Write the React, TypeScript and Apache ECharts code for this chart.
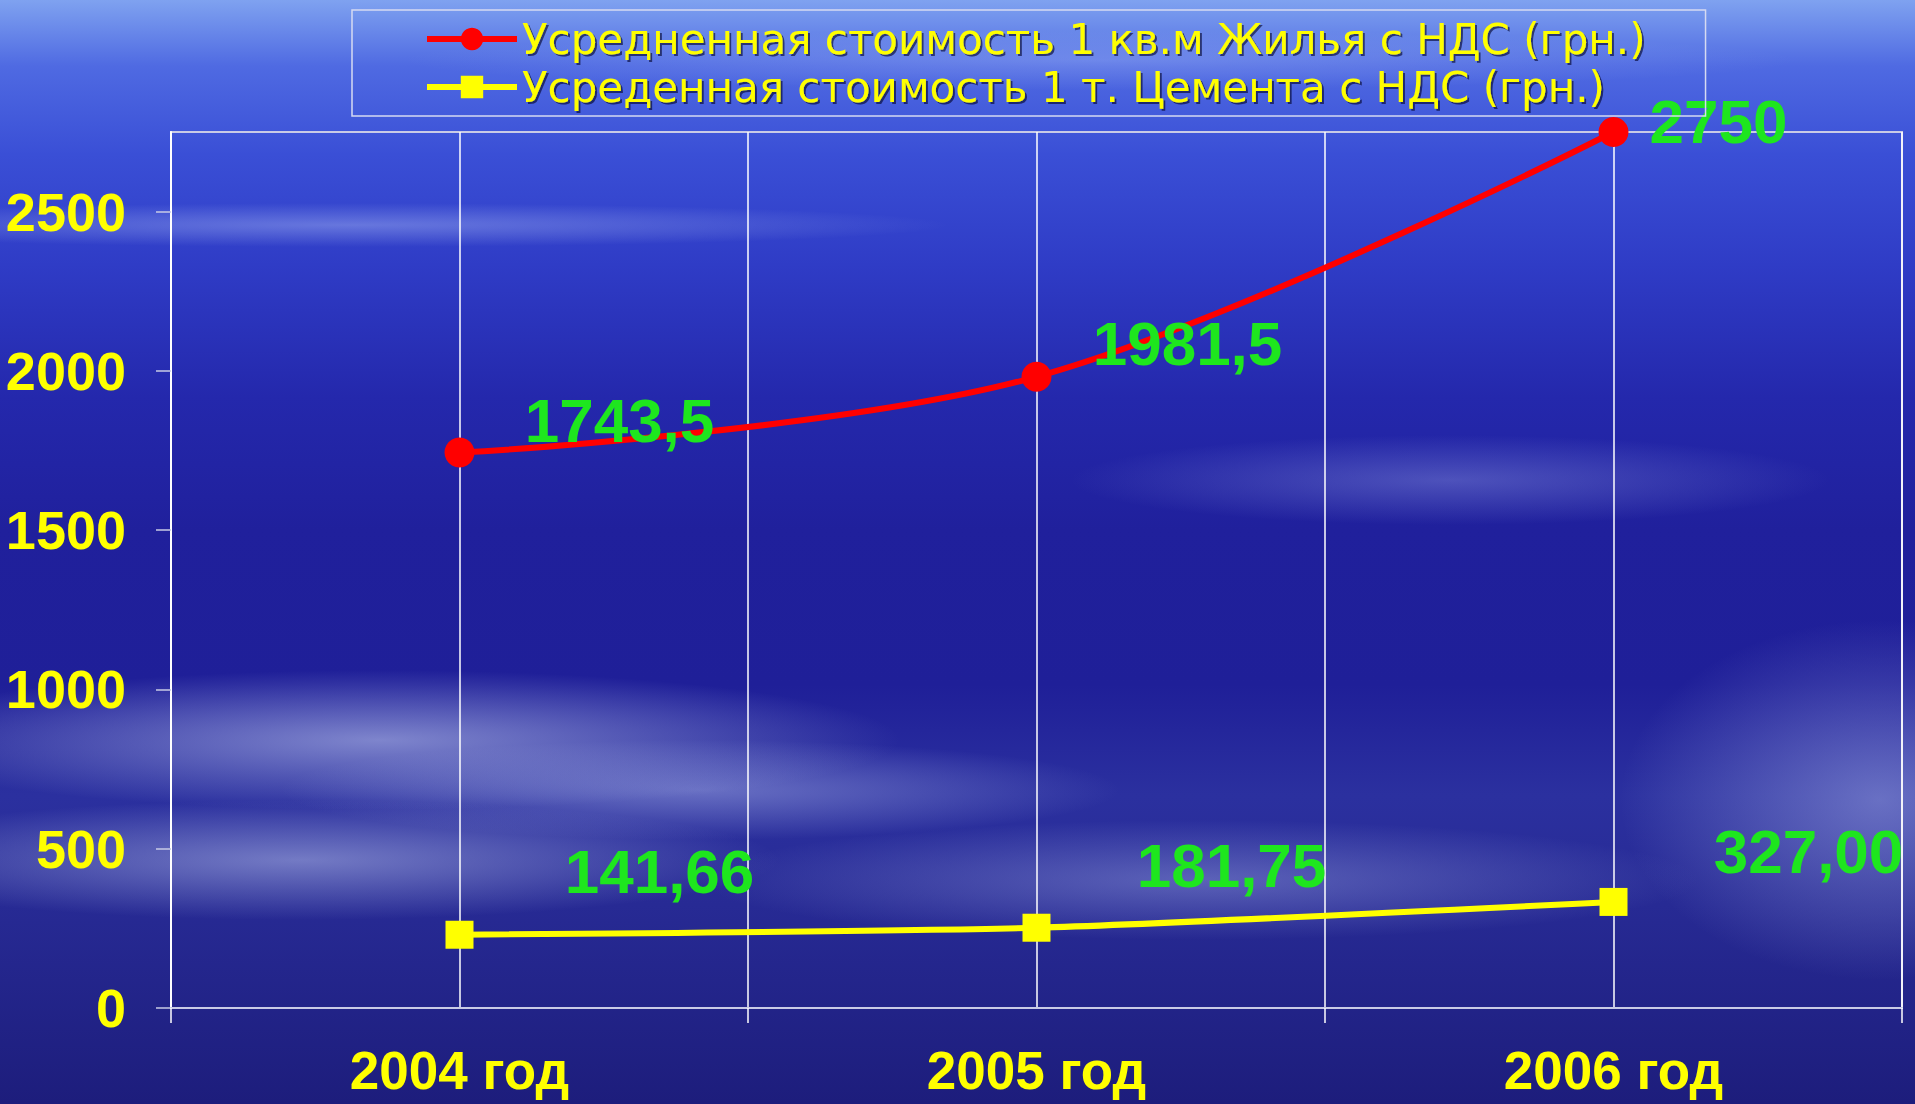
import React, { useEffect, useRef } from "react";
import * as echarts from "echarts";

const categories = ["2004 год", "2005 год", "2006 год"];
const housingName = "Усредненная стоимость 1 кв.м Жилья с НДС (грн.)";
const cementName = "Усреденная стоимость 1 т. Цемента с НДС (грн.)";
const housingValues = [1743.5, 1981.5, 2750];
const housingLabels = ["1743,5", "1981,5", "2750"];
const cementValues = [230, 252, 333];
const cementLabels = ["141,66", "181,75", "327,00"];
const yTicks = [0, 500, 1000, 1500, 2000, 2500];
const halfSteps = ["", "", "", "", "", ""];

const housingOffsets = [
  [160, -32],
  [151, -33],
  [105, -11],
];
const cementOffsets = [
  [200, -63],
  [195, -62],
  [195, -50],
];

const FONT = "'Liberation Sans', Arial, sans-serif";

const bg = [
  "radial-gradient(ellipse 520px 70px at 380px 740px, rgba(200,210,245,0.55), rgba(200,210,245,0) 100%)",
  "radial-gradient(ellipse 480px 60px at 300px 860px, rgba(190,200,240,0.5), rgba(190,200,240,0) 100%)",
  "radial-gradient(ellipse 420px 50px at 700px 790px, rgba(180,190,240,0.45), rgba(180,190,240,0) 100%)",
  "radial-gradient(ellipse 500px 60px at 1200px 880px, rgba(170,180,235,0.4), rgba(170,180,235,0) 100%)",
  "radial-gradient(ellipse 380px 45px at 1450px 480px, rgba(160,170,235,0.35), rgba(160,170,235,0) 100%)",
  "radial-gradient(ellipse 260px 180px at 1880px 800px, rgba(180,190,240,0.45), rgba(180,190,240,0) 100%)",
  "radial-gradient(ellipse 600px 22px at 350px 225px, rgba(200,215,255,0.35), rgba(200,215,255,0) 100%)",
  "radial-gradient(ellipse 700px 30px at 1100px 60px, rgba(190,210,255,0.25), rgba(190,210,255,0) 100%)",
  "linear-gradient(to bottom, #7fa2f0 0%, #4f6ae2 6%, #3a4fd6 14%, #2f3cc6 24%, #2428ac 36%, #20209c 48%, #1f1f98 62%, #2b309f 72%, #272a94 82%, #1d1d7c 100%)",
].join(", ");

export default function App() {
  const ref = useRef<HTMLDivElement>(null);

  useEffect(() => {
    if (!ref.current) return;
    const chart = echarts.init(ref.current, null, { renderer: "svg" });

    const dataLabel = {
      show: true,
      position: "inside",
      color: "#1ee61e",
      fontSize: 62,
      fontWeight: "bold",
      fontFamily: FONT,
    };

    const option = {
      animation: false,
      backgroundColor: "transparent",
      legend: {
        orient: "vertical",
        left: 352,
        top: 10,
        padding: [8, 60, 8, 72],
        itemWidth: 90,
        itemHeight: 28,
        itemGap: 6,
        borderColor: "#d6daf2",
        borderWidth: 1.5,
        lineStyle: { width: 6 },
        textStyle: {
          color: "#ffff00",
          fontSize: 42,
          lineHeight: 38,
          fontFamily: "'DejaVu Sans', sans-serif",
          textShadowColor: "rgba(0,0,40,0.6)",
          textShadowOffsetX: 2,
          textShadowOffsetY: 2,
          textShadowBlur: 1,
        },
        data: [housingName, cementName],
      },
      grid: {
        left: 171,
        right: 13,
        top: 132,
        bottom: 96,
        outerBoundsMode: "none",
        containLabel: false,
        show: true,
        borderColor: "#c9cbe6",
        borderWidth: 2,
        backgroundColor: "transparent",
      },
      xAxis: [
        {
          type: "category",
          data: categories,
          boundaryGap: true,
          axisLine: { lineStyle: { color: "#c9cbe6", width: 2 } },
          axisTick: { show: true, length: 15, lineStyle: { color: "#ffffff", width: 1.5 } },
          axisLabel: {
            color: "#ffff00",
            fontSize: 53,
            lineHeight: 50,
            fontWeight: "bold",
            fontFamily: FONT,
            margin: 37,
            textShadowColor: "rgba(0,0,40,0.6)",
            textShadowOffsetX: 2,
            textShadowOffsetY: 2,
          },
          splitLine: { show: false },
        },
        {
          type: "category",
          data: halfSteps,
          boundaryGap: true,
          position: "bottom",
          axisLine: { show: false },
          axisTick: { show: false },
          axisLabel: { show: false },
          splitLine: { show: true, interval: 0, lineStyle: { color: "#ffffff", width: 1.5 } },
        },
      ],
      yAxis: {
        type: "value",
        min: yTicks[0],
        max: 2750,
        interval: 500,
        axisLine: { show: true, lineStyle: { color: "#ffffff", width: 2 } },
        axisTick: { show: true, length: 15, lineStyle: { color: "#c9cbe6", width: 1.5 } },
        axisLabel: {
          color: "#ffff00",
          fontSize: 54,
          fontWeight: "bold",
          fontFamily: FONT,
          margin: 45,
          showMaxLabel: false,
          formatter: (v: number) => String(v),
          textShadowColor: "rgba(0,0,40,0.6)",
          textShadowOffsetX: 2,
          textShadowOffsetY: 2,
        },
        splitLine: { show: false },
      },
      series: [
        {
          name: housingName,
          type: "line",
          xAxisIndex: 0,
          smooth: 0.35,
          symbol: "circle",
          symbolSize: 30,
          lineStyle: { color: "#ff0000", width: 6 },
          itemStyle: { color: "#ff0000" },
          label: dataLabel,
          data: housingValues.map((v, i) => ({
            value: v,
            label: { formatter: housingLabels[i], offset: housingOffsets[i] },
          })),
          z: 3,
        },
        {
          name: cementName,
          type: "line",
          xAxisIndex: 0,
          smooth: 0.2,
          symbol: "rect",
          symbolSize: 28,
          lineStyle: { color: "#ffff00", width: 6 },
          itemStyle: { color: "#ffff00" },
          label: dataLabel,
          data: cementValues.map((v, i) => ({
            value: v,
            label: { formatter: cementLabels[i], offset: cementOffsets[i] },
          })),
          z: 3,
        },
      ],
    };

    chart.setOption(option as any);
    return () => chart.dispose();
  }, []);

  return (
    <div
      style={{
        position: "fixed",
        left: 0,
        top: 0,
        width: 1915,
        height: 1104,
        background: bg,
      }}
    >
      <div ref={ref} style={{ width: 1915, height: 1104 }} />
    </div>
  );
}
